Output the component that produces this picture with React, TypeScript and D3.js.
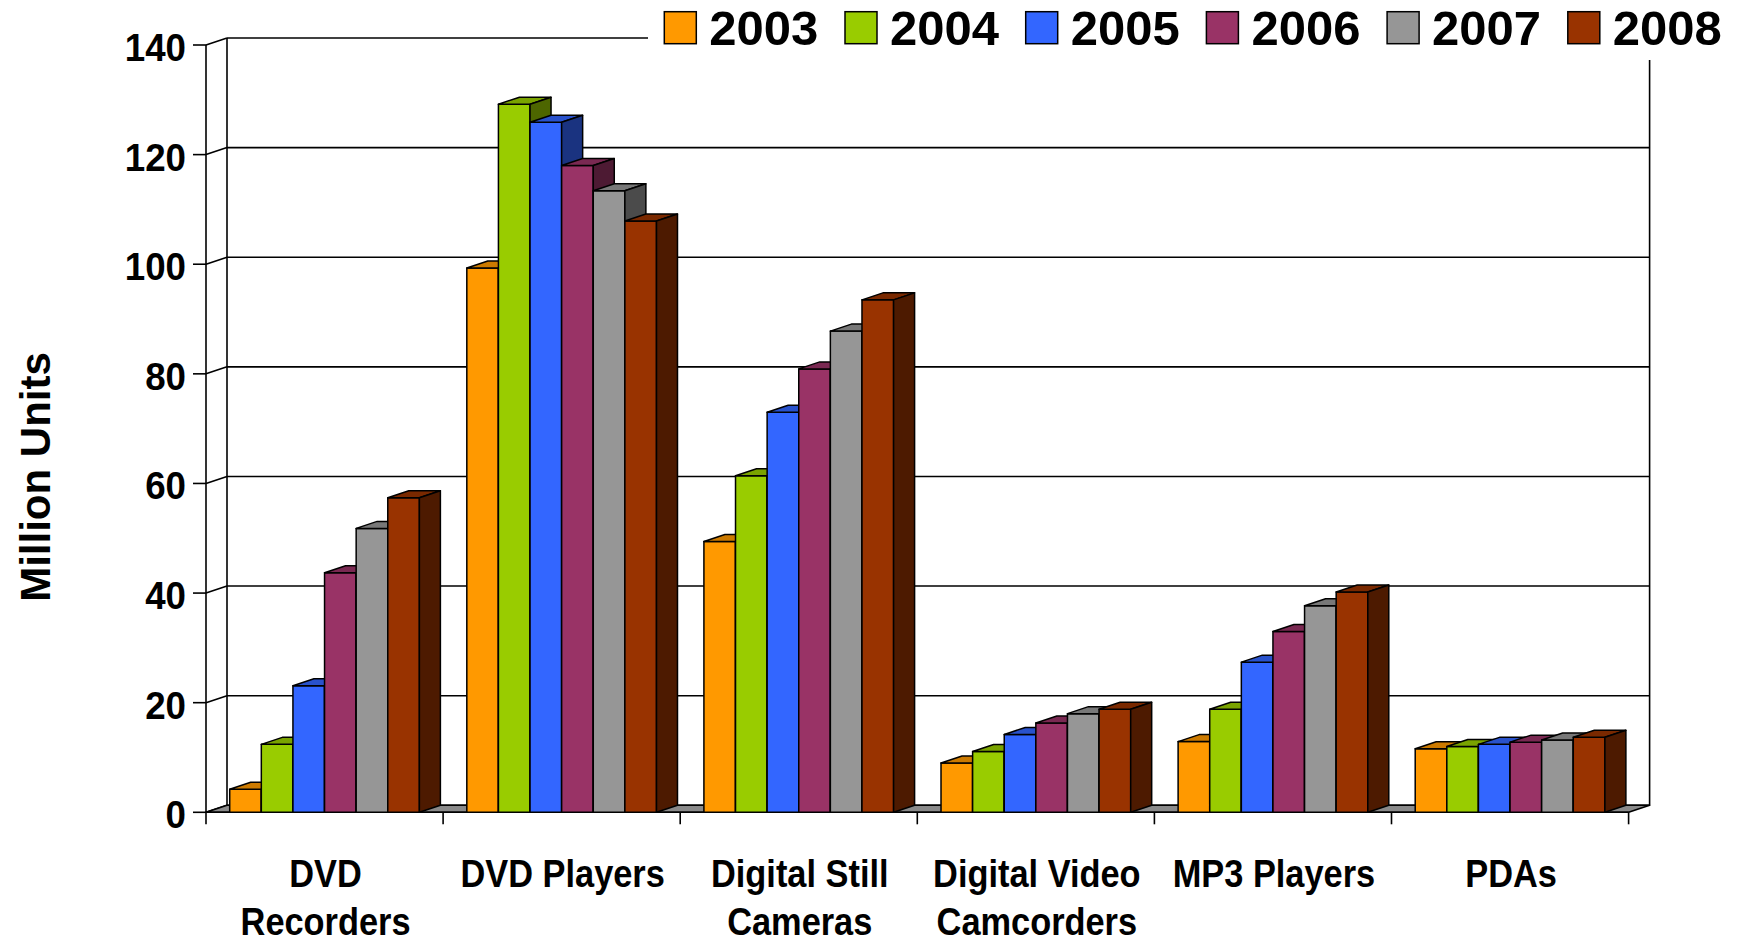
import React from "react";
import * as d3 from "d3";

const categories = ["DVD Recorders", "DVD Players", "Digital Still Cameras", "Digital Video Camcorders", "MP3 Players", "PDAs"];
const categoryLabelLines = [["DVD", "Recorders"], ["DVD Players"], ["Digital Still", "Cameras"], ["Digital Video", "Camcorders"], ["MP3 Players"], ["PDAs"]];
const years = ["2003", "2004", "2005", "2006", "2007", "2008"];
const v2003 = [4.2, 99.3, 49.4, 9.0, 12.9, 11.6];
const v2004 = [12.4, 129.2, 61.4, 11.1, 18.8, 12.0];
const v2005 = [23.1, 125.9, 73.0, 14.2, 27.4, 12.4];
const v2006 = [43.7, 118.0, 80.9, 16.3, 33.0, 12.8];
const v2007 = [51.8, 113.4, 87.8, 18.0, 37.7, 13.2];
const v2008 = [57.4, 107.9, 93.5, 18.8, 40.2, 13.7];
const seriesValues = [v2003, v2004, v2005, v2006, v2007, v2008];
const yTicks = [0, 20, 40, 60, 80, 100, 120, 140];
const frontColors = ["#FF9900", "#99CC00", "#3366FF", "#993366", "#969696", "#993300"];

const W = 1739, H = 945;
const DX = 21, DY = -7;
const FONT = "'Liberation Sans', Arial, Helvetica, sans-serif";

function shade(c: string, k: number) {
  const col = d3.rgb(c);
  return d3.rgb(col.r * k, col.g * k, col.b * k).formatHex();
}

export default function App() {
  const y = d3.scaleLinear().domain([0, 140]).range([812.3, 45]);
  const x = d3.scaleBand<string>().domain(categories).range([206, 1628.6]).padding(0);
  const xi = d3.scaleBand<string>().domain(years).range([0, x.bandwidth()]).paddingInner(0).paddingOuter(0.75);
  const x0 = 206, x1 = 1628.6;
  const y0 = y(0), yTop = y(140);
  const sw = 1.6;

  const pts = (arr: number[][]) => arr.map((p) => p.join(",")).join(" ");

  return (
    <svg width={W} height={H} style={{ position: "absolute", left: 0, top: 0, background: "#fff" }} fontFamily={FONT}>
      <rect x={0} y={0} width={W} height={H} fill="#fff" />
      {/* back wall gridlines */}
      {yTicks.map((t) => (
        <line key={"g" + t} x1={x0 + DX} x2={x1 + DX} y1={y(t) + DY} y2={y(t) + DY} stroke="#000" strokeWidth={sw} />
      ))}
      <line x1={x0 + DX} x2={x0 + DX} y1={yTop + DY} y2={y0 + DY} stroke="#000" strokeWidth={sw} />
      <line x1={x1 + DX} x2={x1 + DX} y1={yTop + DY} y2={y0 + DY} stroke="#000" strokeWidth={sw} />
      {/* side wall diagonals */}
      {yTicks.map((t) => (
        <line key={"d" + t} x1={x0} x2={x0 + DX} y1={y(t)} y2={y(t) + DY} stroke="#000" strokeWidth={sw} />
      ))}
      {/* floor */}
      <polygon points={pts([[x0, y0], [x1, y0], [x1 + DX, y0 + DY], [x0 + DX, y0 + DY]])} fill="#8a8a8a" stroke="#000" strokeWidth={sw} strokeLinejoin="round" />
      {/* front axis */}
      <line x1={x0} x2={x0} y1={yTop} y2={y0} stroke="#000" strokeWidth={sw} />
      <line x1={x0} x2={x1} y1={y0} y2={y0} stroke="#000" strokeWidth={sw} />
      {yTicks.map((t) => (
        <g key={"t" + t}>
          <line x1={x0 - 13} x2={x0} y1={y(t)} y2={y(t)} stroke="#000" strokeWidth={sw} />
          <text transform={`translate(186,${y(t) + 16}) scale(0.93,1)`} textAnchor="end" fontSize={39.5} fontWeight="bold" fill="#000">{t}</text>
        </g>
      ))}
      {[...categories.map((c) => x(c) as number), x1].map((px, i) => (
        <line key={"ct" + i} x1={px} x2={px} y1={y0} y2={y0 + 12} stroke="#000" strokeWidth={sw} />
      ))}
      {/* bars */}
      {categories.map((c, ci) => (
        <g key={"c" + ci}>
          {years.map((yr, si) => {
            const v = seriesValues[si][ci];
            const bx0 = (x(c) as number) + (xi(yr) as number);
            const bx1 = bx0 + xi.bandwidth();
            const by = y(v);
            const col = frontColors[si];
            return (
              <g key={yr} stroke="#000" strokeWidth={1.5} strokeLinejoin="round">
                <rect x={bx0} y={by} width={bx1 - bx0} height={y0 - by} fill={col} />
                <polygon points={pts([[bx0, by], [bx1, by], [bx1 + DX, by + DY], [bx0 + DX, by + DY]])} fill={shade(col, 0.8)} />
                <polygon points={pts([[bx1, by], [bx1 + DX, by + DY], [bx1 + DX, y0 + DY], [bx1, y0]])} fill={shade(col, 0.5)} />
              </g>
            );
          })}
        </g>
      ))}
      {/* category labels */}
      {categories.map((c, ci) => (
        <g key={"cl" + ci} transform={`translate(${(x(c) as number) + x.bandwidth() / 2 + 1},0) scale(0.87,1)`}>
          {categoryLabelLines[ci].map((ln, li) => (
            <text key={li} x={0} y={887 + li * 48} textAnchor="middle" fontSize={39.5} fontWeight="bold" fill="#000">{ln}</text>
          ))}
        </g>
      ))}
      {/* y axis title */}
      <text transform="translate(50,477) rotate(-90)" textAnchor="middle" fontSize={42} fontWeight="bold" fill="#000">Million Units</text>
      {/* legend */}
      <rect x={648} y={0} width={W - 648} height={60} fill="#fff" />
      {years.map((yr, si) => {
        const lx = 664.3 + si * 180.7;
        return (
          <g key={"l" + yr}>
            <rect x={lx} y={11.7} width={32} height={32} fill={frontColors[si]} stroke="#000" strokeWidth={1.5} />
            <text x={lx + 45} y={45} fontSize={49} fontWeight="bold" fill="#000">{yr}</text>
          </g>
        );
      })}
    </svg>
  );
}
